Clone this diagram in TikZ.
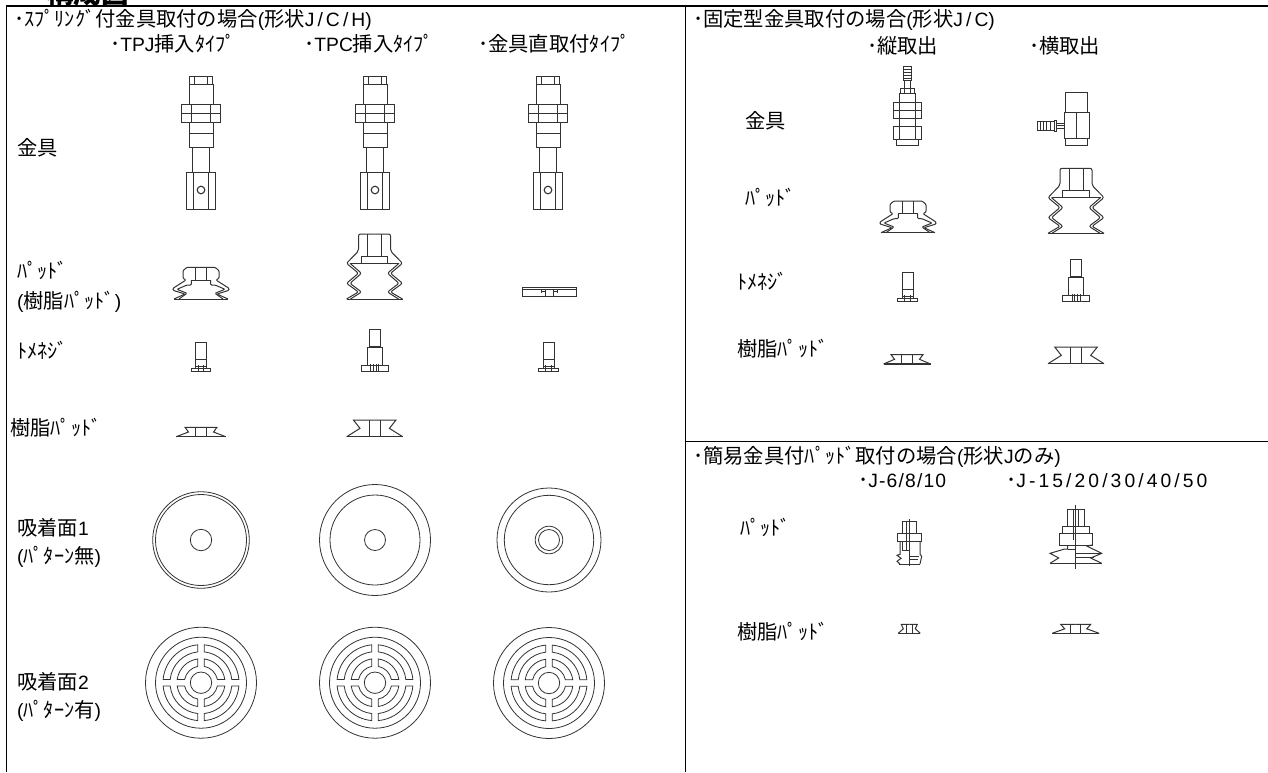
\documentclass[tikz,border=0pt]{standalone}
\usepackage{fontspec}
\setmainfont[Scale=0.95]{Liberation Sans}
\newfontfamily\cjk{Noto Sans CJK JP}
\newfontfamily\spc[Scale=0.95, LetterSpace=16]{Liberation Sans}
\newfontfamily\spcb[Scale=0.95, LetterSpace=6]{Liberation Sans}
\newcommand{\jp}[1]{{\cjk #1}}
\tikzset{
    lbl/.style={anchor=west, inner sep=0pt, font=\fontsize{20.3}{21}\selectfont},
    part/.style={line width=1pt, black!80},
    rule/.style={line width=1.2pt, black},
}
% Spring fitting
\newcommand{\fitSpring}[2]{
    \begin{scope}[shift={(#1,#2)}, part]
        \draw (-11.5,0) rectangle (11.5,8);
        \draw (-6.5,0) -- (-6.5,8) (6.5,0) -- (6.5,8);
        \draw (-12,8) rectangle (12,28);
        \draw (-19.5,28) rectangle (19.5,46);
        \draw (-19.5,37) -- (19.5,37);
        \draw (-9.5,28) -- (-9.5,46) (9.5,28) -- (9.5,46);
        \draw (-12,46) rectangle (12,57);
        \draw (-12,57) rectangle (12,71);
        \draw (-8.7,71) -- (-8.7,96) (8.7,71) -- (8.7,96);
        \draw (-14.3,96) rectangle (14.3,133);
        \draw (-7.2,96) -- (-7.2,133) (7.2,96) -- (7.2,133);
        \draw[line width=1.1pt] (0,114) circle[radius=3.8];
    \end{scope}
}
% Bellows pad, small
\newcommand{\padSmall}[2]{
    \begin{scope}[shift={(#1,#2)}, part]
        \foreach \sd in {1,-1} {
            \draw[xscale=\sd, rounded corners=1pt] (0,0) -- (14,0) -- (18,3.3) -- (18,11) -- (15,12.7) -- (28,21) -- (28,23) -- (16,26.7) -- (27,31.7);
            \draw[xscale=\sd, rounded corners=1pt] (9.7,12.7) -- (9.7,17.7) -- (14,17.7) -- (24,22) -- (14,26) -- (22,31.7);
            \draw[xscale=\sd] (5.2,0) -- (5.2,12.7);
        }
        \draw (-9.7,12.7) -- (9.7,12.7);
        \draw (-27,31.7) -- (27,31.7);
    \end{scope}
}
% Bellows pad, large
\newcommand{\padLarge}[2]{
    \begin{scope}[shift={(#1,#2)}, part]
        \foreach \sd in {1,-1} {
            \draw[xscale=\sd, rounded corners=2pt] (0,0) -- (16,0) -- (16,17) -- (28,29.3) -- (16,39.3) -- (28,49.3) -- (16,58) -- (28,65);
            \draw[xscale=\sd, rounded corners=2pt] (24.5,29.3) -- (13,39.3) -- (24.5,49.3) -- (13,58) -- (24,65);
            \draw[xscale=\sd] (7,0) -- (7,22);
        }
        \draw (-13.3,22) rectangle (13.3,29.3);
        \draw (-24.5,29.3) -- (24.5,29.3);
        \draw (-28,65) -- (28,65);
    \end{scope}
}
% Stopper screw, small
\newcommand{\screwSmall}[2]{
    \begin{scope}[shift={(#1,#2)}, part]
        \draw (-5.5,0) rectangle (5.5,24);
        \draw (-5.5,17) -- (5.5,17);
        \draw (-9.7,26.5) rectangle (9.7,29);
        \draw (-5.5,24) -- (-5.5,26.5) (5.5,24) -- (5.5,26.5);
        \draw (-2.6,23) -- (-2.6,29) (2.6,23) -- (2.6,29);
    \end{scope}
}
% Stopper screw, large
\newcommand{\screwLarge}[2]{
    \begin{scope}[shift={(#1,#2)}, part]
        \draw (-5.5,0) rectangle (5.5,17);
        \draw (-7.3,18) rectangle (7.3,36);
        \draw (-13.5,36) rectangle (13.5,42);
        \draw (-4,34.5) -- (-4,42) (-1.3,34.5) -- (-1.3,42) (1.3,34.5) -- (1.3,42) (4,34.5) -- (4,42);
    \end{scope}
}
% Resin pad: x, y, top, waist, foot, height, stem
\newcommand{\padResin}[7]{
    \begin{scope}[shift={(#1,#2)}, part]
        \foreach \sd in {1,-1} {
            \draw[xscale=\sd] (0,0) -- (#3,0) -- (#4,0.5*#6) -- (#5,#6);
            \draw[xscale=\sd] (#7,0) -- (#7,#6);
        }
        \draw[line width=1.3pt] (-#5,#6) -- (#5,#6);
    \end{scope}
}
% Face without pattern
\newcommand{\faceFlat}[5]{
    \begin{scope}[shift={(#1,#2)}, part, line width=0.8pt]
        \draw (0,0) circle[radius=#3];
        \draw (0,0) circle[radius=#4];
        \draw (0,0) circle[radius=#5];
    \end{scope}
}
% Face with pattern
\newcommand{\faceRing}[2]{
    \begin{scope}[shift={(#1,#2)}, part, line width=0.8pt]
        \draw (0,0) circle[radius=55.5];
        \draw (0,0) circle[radius=45.5];
        \draw (0,0) circle[radius=10.7];
        \foreach \q in {0,90,180,270} {
            \begin{scope}[rotate=\q]
                \draw ({asin(3.3/38)}:38) arc[start angle={asin(3.3/38)}, end angle={90-asin(3.3/38)}, radius=38]
                    -- ({90-asin(3.3/31)}:31) arc[start angle={90-asin(3.3/31)}, end angle={asin(3.3/31)}, radius=31] -- cycle;
                \draw ({asin(3.3/24)}:24) arc[start angle={asin(3.3/24)}, end angle={90-asin(3.3/24)}, radius=24]
                    -- ({90-asin(3.3/16.7)}:16.7) arc[start angle={90-asin(3.3/16.7)}, end angle={asin(3.3/16.7)}, radius=16.7] -- cycle;
            \end{scope}
        }
    \end{scope}
}
\begin{document}
\begin{tikzpicture}[x=1pt, y=-1pt]
    \useasboundingbox (0,0) rectangle (1268,772);

    % Title, cut by the page
    \node[anchor=west, inner sep=0pt, font=\fontsize{27.5}{28}\selectfont\bfseries] (title) at (46,-6.5) {\jp{構成図}};

    % Table lines
    \draw[rule] (6.5,772) -- (6.5,6) -- (1268,6);
    \draw[rule] (685.5,6) -- (685.5,772);
    \draw[rule] (685.5,441.5) -- (1268,441.5);

    % Left panel, headings
    \node[lbl] (headSpring) at (14,20) {\jp{･ｽﾌﾟﾘﾝｸﾞ付金具取付の場合}(\jp{形状}{\spc J/C/H})};
    \node[lbl] (headTpj) at (110,44) {\jp{･}TPJ\jp{挿入ﾀｲﾌﾟ}};
    \node[lbl] (headTpc) at (304,44) {\jp{･}TPC\jp{挿入ﾀｲﾌﾟ}};
    \node[lbl] (headDirect) at (478,44) {\jp{･金具直取付ﾀｲﾌﾟ}};

    % Left panel, row names
    \node[lbl] (rowFit) at (17,148) {\jp{金具}};
    \node[lbl] (rowPad) at (17,270) {\jp{ﾊﾟｯﾄﾞ}};
    \node[lbl] (rowPadSub) at (17,302) {(\jp{樹脂ﾊﾟｯﾄﾞ})};
    \node[lbl] (rowScrew) at (17,350) {\jp{ﾄﾒﾈｼﾞ}};
    \node[lbl] (rowResin) at (10,428) {\jp{樹脂ﾊﾟｯﾄﾞ}};
    \node[lbl] (rowFaceA) at (17,528) {\jp{吸着面}1};
    \node[lbl] (rowFaceAsub) at (17,557) {(\jp{ﾊﾟﾀｰﾝ無})};
    \node[lbl] (rowFaceB) at (17,682) {\jp{吸着面}2};
    \node[lbl] (rowFaceBsub) at (17,711) {(\jp{ﾊﾟﾀｰﾝ有})};

    % Left panel, fittings
    \foreach \cx in {201,375,548} {
        \fitSpring{\cx}{76}
    }

    % Left panel, pads
    \padSmall{201}{267.3}
    \padLarge{374.5}{234}
    \begin{scope}[shift={(549,287)}, part]
        \draw (-27,0) rectangle (27,9);
        \draw (-27,2) -- (27,2);
        \draw (-8,2) -- (-8,6) (-4,2) -- (-4,9) (4,2) -- (4,9) (8,2) -- (8,6);
        \draw (-8,4) -- (-4,4) (4,4) -- (8,4);
    \end{scope}

    % Left panel, screws
    \screwSmall{201}{342.3}
    \screwLarge{374.7}{329.3}
    \screwSmall{548.5}{342.3}

    % Left panel, resin pads
    \padResin{201}{427.3}{16}{12.5}{24.8}{9.4}{5.2}
    \padResin{374.7}{420}{21.3}{14.7}{28}{16.7}{5.3}

    % Left panel, suction faces
    \faceFlat{201}{540}{48.3}{45.5}{10.7}
    \faceFlat{375}{540}{55.5}{45}{10.5}
    \faceFlat{549}{540}{52}{44.7}{13.8}
    \draw[part, line width=0.8pt] (549,540) circle[radius=10.5];
    \faceRing{201}{682.7}
    \faceRing{375}{682.7}
    \faceRing{549}{683}

    % Right panel, headings
    \node[lbl] (headFixed) at (693,20) {\jp{･固定型金具取付の場合}(\jp{形状}{\spc J/C})};
    \node[lbl] (headVert) at (867,46) {\jp{･縦取出}};
    \node[lbl] (headHoriz) at (1029,46) {\jp{･横取出}};
    \node[lbl] (headSimple) at (693,457) {\jp{･簡易金具付ﾊﾟｯﾄﾞ取付の場合}(\jp{形状}J\jp{のみ})};
    \node[lbl] (headSmall) at (858,481) {\jp{･}{\spcb J-6/8/10}};
    \node[lbl] (headBig) at (1006,481) {\jp{･}{\spc J-15/20/30/40/50}};

    % Right panel, row names
    \node[lbl] (rightFit) at (745,121) {\jp{金具}};
    \node[lbl] (rightPad) at (745,197) {\jp{ﾊﾟｯﾄﾞ}};
    \node[lbl] (rightScrew) at (737,281) {\jp{ﾄﾒﾈｼﾞ}};
    \node[lbl] (rightResin) at (737,349) {\jp{樹脂ﾊﾟｯﾄﾞ}};
    \node[lbl] (lowerPad) at (740,527) {\jp{ﾊﾟｯﾄﾞ}};
    \node[lbl] (lowerResin) at (737,632) {\jp{樹脂ﾊﾟｯﾄﾞ}};

    % Vertical outlet fitting
    \begin{scope}[shift={(907.5,66)}, part]
        \draw (-4,0) rectangle (4,14);
        \foreach \yy in {3,6,9,12} {
            \draw (-4,\yy) -- (4,\yy);
        }
        \draw (-3,14) -- (-3,22) (3,14) -- (3,22);
        \draw (-7,22) rectangle (7,27);
        \draw (-3,22) -- (-3,27) (3,22) -- (3,27);
        \draw (-8.3,27) rectangle (8.3,36);
        \draw (-14,36) rectangle (14,52);
        \draw (-14,44) -- (14,44);
        \draw (-8.3,36) -- (-8.3,52) (8.3,36) -- (8.3,52);
        \draw (-8,52) -- (-8,60) (8,52) -- (8,60);
        \draw (-14,60) rectangle (14,73);
        \draw (-8,60) -- (-8,73) (8,60) -- (8,73);
        \draw (-10.7,73) -- (-10.7,79.7) (10.7,73) -- (10.7,79.7);
        \draw[line width=1.3pt] (-10.7,79.7) -- (10.7,79.7);
    \end{scope}

    % Horizontal outlet fitting
    \begin{scope}[shift={(1076,92.3)}, part]
        \draw (-10.5,0) rectangle (11,20.4);
        \draw (-12,20.4) rectangle (13,46);
        \draw (0,20.4) -- (0,46);
        \draw (-10.5,46) -- (-10.5,53.4) (11,46) -- (11,53.4);
        \draw[line width=1.3pt] (-10.5,53.4) -- (11,53.4);
        \draw (-38.7,29.4) rectangle (-26,37.7);
        \foreach \xx in {-36,-33,-30} {
            \draw (\xx,29.4) -- (\xx,37.7);
        }
        \draw (-26,29.4) -- (-22,29.4) (-26,37.7) -- (-22,37.7);
        \draw (-22,28) rectangle (-19.5,39);
        \draw (-19.5,31) -- (-12,31) (-19.5,36) -- (-12,36) (-19.5,33.5) -- (-12,33.5);
    \end{scope}

    % Right panel, pads, screws, resin pads
    \padSmall{908}{201}
    \padLarge{1076}{168.3}
    \screwSmall{907.5}{272.3}
    \screwLarge{1076}{259}
    \padResin{907}{354.6}{16}{12.5}{23.5}{9.4}{5.2}
    \padResin{1076}{347}{21.3}{14.7}{28}{16.7}{5.3}

    % Simple pad J-6
    \begin{scope}[shift={(909,519.3)}, part]
        \draw (0,0) -- (0,46.7);
        \draw (-6.3,1.7) rectangle (7,14);
        \draw (-3,1.7) -- (-3,14);
        \draw (-11.3,14) rectangle (12.7,21.7);
        \draw (-3,14) -- (-3,30.7);
        \draw (-9,21.7) -- (-9,35) -- (-12,36) -- (-8,39) -- (-12,42) -- (-9,44.7);
        \draw (-6.5,21.7) -- (-6.5,30.7) -- (0,30.7);
        \draw (11,21.7) -- (11,35) -- (12.7,37) -- (11,44.7);
        \draw (-10,44.7) -- (11,44.7);
        \draw (0,37) -- (10,37) (0,40) -- (9,40);
    \end{scope}

    % Simple pad J-15
    \begin{scope}[shift={(1075.7,505)}, part]
        \draw (0,0) -- (0,64.3);
        \draw (-8.3,4.3) rectangle (8.3,21.7);
        \draw (-2.3,4.3) -- (-2.3,35) (2.7,4.3) -- (2.7,21.7);
        \draw (-13.5,21.7) rectangle (13.5,28.3);
        \draw (-16.3,28.3) rectangle (16.3,40);
        \draw (-8,40) -- (-8,44) -- (-11,44) -- (-25.7,48.3) -- (-17,53) -- (-25.7,58.3);
        \draw (-8,44) -- (0,44);
        \draw (16.3,40) -- (11,41) -- (26,48.3) -- (15,53) -- (26,58.3);
        \draw (0,48.3) -- (26,48.3) (0,52) -- (18,52);
        \draw[line width=1.3pt] (-25.7,58.3) -- (26,58.3);
    \end{scope}

    % Simple resin pads
    \padResin{909.3}{624.3}{8}{6}{11}{9}{3}
    \padResin{1075.7}{624.3}{15}{11}{23.5}{9}{5}
\end{tikzpicture}
\end{document}
